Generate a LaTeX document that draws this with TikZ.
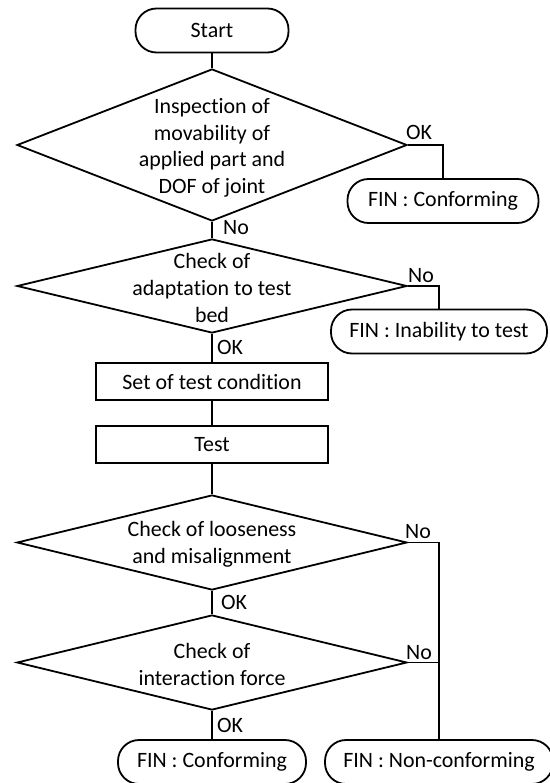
\documentclass[tikz,border=0pt]{standalone}
\usepackage{fontspec}
\setmainfont{Carlito}[Ligatures={CommonOff,ContextualOff}]
\usetikzlibrary{shapes.geometric,positioning}
\newcommand{\flowfont}{\fontsize{22}{26.7}\selectfont}
\tikzset{flowline/.style={line width=1.8bp,black},terminal/.style={draw=black,line width=1.8bp,rounded corners=21bp,minimum height=44bp,inner sep=0pt,font=\flowfont},procbox/.style={draw=black,line width=1.8bp,minimum width=232bp,minimum height=37bp,inner sep=0pt,font=\flowfont},decision/.style={draw=black,diamond,line width=1.8bp,minimum width=390bp,inner sep=0pt},note/.style={font=\flowfont,align=center,inner sep=0pt},answer/.style={font=\flowfont,inner sep=0pt,anchor=west}}

\begin{document}
\begin{tikzpicture}[x=1bp,y=-1bp]
\fill[white] (0,0) rectangle (550,783);
\useasboundingbox (0,0) rectangle (550,783);
% main column
\node[terminal,minimum width=153bp] (start) at (212,30.5) {Start};
\node[decision,minimum height=152bp] (d1) at (212,145) {};
\node[note] (d1txt) at (212,148) {Inspection of\\movability of\\applied part and\\DOF of joint};
\node[decision,minimum height=94bp] (d2) at (212,286) {};
\node[note] (d2txt) at (212,288) {Check of\\adaptation to test\\bed};
\node[procbox] (setc) at (212,381.5) {Set of test condition};
\node[procbox] (test) at (212,444.5) {Test};
\node[decision,minimum height=95bp] (d3) at (212,542.5) {};
\node[note] (d3txt) at (212,544.5) {Check of looseness\\and misalignment};
\node[decision,minimum height=95bp] (d4) at (212,662.5) {};
\node[note] (d4txt) at (212,664.5) {Check of\\interaction force};
\node[terminal,minimum width=188bp] (fin3) at (212,762) {FIN : Conforming};
% right column
\node[terminal,minimum width=191bp] (fin1) at (443,201) {FIN : Conforming};
\node[terminal,minimum width=216bp] (fin2) at (439,331.5) {FIN : Inability to test};
\node[terminal,minimum width=228bp] (fin4) at (439,762) {FIN : Non-conforming};
% connectors
\draw[flowline] (start) -- (d1);
\draw[flowline] (d1) -- (d2);
\draw[flowline] (d1.east) -| (fin1.north);
\draw[flowline] (d2.east) -| (fin2.north);
\draw[flowline] (d2) -- (setc);
\draw[flowline] (setc) -- (test);
\draw[flowline] (test) -- (d3);
\draw[flowline] (d3) -- (d4);
\draw[flowline] (d4) -- (fin3);
\draw[flowline] (d3.east) -| (fin4.north);
\coordinate (join) at (d4.east -| fin4.north);
\draw[flowline] (d4.east) -- (join);
% answers
\node[answer] (ok1) at (406,132) {OK};
\node[answer] (no1) at (223,228) {No};
\node[answer] (no2) at (408,276) {No};
\node[answer] (ok2) at (217,347) {OK};
\node[answer] (no3) at (405,532) {No};
\node[answer] (ok3) at (221,602) {OK};
\node[answer] (no4) at (406,653) {No};
\node[answer] (ok4) at (217,725) {OK};
\end{tikzpicture}
\end{document}
